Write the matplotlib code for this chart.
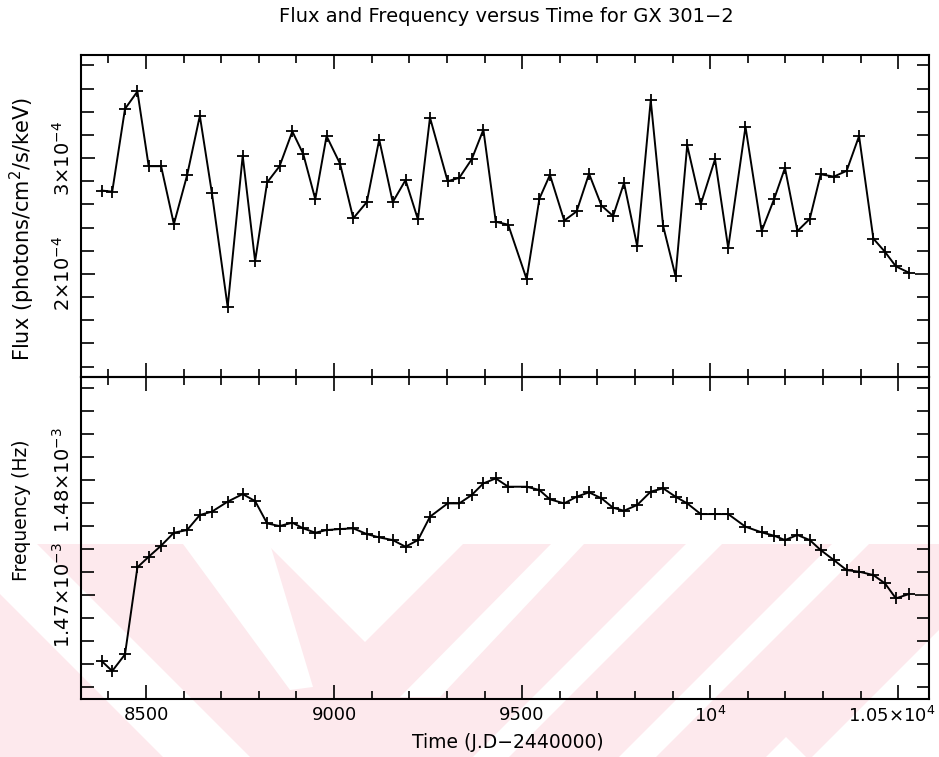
import numpy as np
import matplotlib
matplotlib.use("Agg")
import matplotlib.pyplot as plt
import matplotlib.transforms as mtransforms
from matplotlib.patches import Polygon
from matplotlib.ticker import FixedLocator, MultipleLocator

plt.rcParams['font.family'] = 'DejaVu Sans'
plt.rcParams['mathtext.fontset'] = 'dejavusans'

# observation times (J.D - 2440000)
time = [8382, 8410, 8444, 8477, 8507, 8540, 8574, 8609, 8643, 8675, 8717, 8757,
        8790, 8822, 8855, 8889, 8918, 8950, 8980, 9016, 9051, 9087, 9120, 9156,
        9190, 9223, 9255, 9302, 9333, 9366, 9397, 9430, 9463, 9512, 9546, 9574,
        9612, 9645, 9678, 9711, 9742, 9771, 9806, 9842, 9875, 9908, 9939, 9975,
        10013, 10048, 10094, 10137, 10170, 10199, 10232, 10265, 10294, 10329,
        10363, 10396, 10434, 10465, 10494, 10529]

# flux in units of 1e-4 photons/cm^2/s/keV
flux_e4 = [2.72, 2.71, 3.425, 3.575, 2.93, 2.93, 2.43, 2.85, 3.365, 2.70, 1.715, 3.02,
           2.11, 2.79, 2.93, 3.23, 3.035, 2.645, 3.19, 2.95, 2.48, 2.62, 3.16, 2.62,
           2.81, 2.47, 3.35, 2.80, 2.83, 2.99, 3.245, 2.45, 2.425, 1.955, 2.65, 2.855,
           2.46, 2.54, 2.865, 2.59, 2.50, 2.785, 2.24, 3.50, 2.415, 1.98, 3.11, 2.60,
           2.99, 2.225, 3.27, 2.37, 2.645, 2.915, 2.37, 2.475, 2.86, 2.84, 2.89, 3.19,
           2.305, 2.19, 2.065, 2.01]

# pulse frequency in units of 1e-3 Hz
freq_e3 = [1.46426, 1.46339, 1.46484, 1.47241, 1.47333, 1.47429, 1.47542, 1.47565,
           1.47696, 1.47725, 1.47812, 1.47878, 1.47817, 1.47623, 1.47600, 1.47629,
           1.47580, 1.47542, 1.47565, 1.47574, 1.47580, 1.47530, 1.47501, 1.47478,
           1.47420, 1.47478, 1.47681, 1.47797, 1.47797, 1.47870, 1.47971, 1.48014,
           1.47942, 1.47942, 1.47913, 1.47832, 1.47797, 1.47855, 1.47893, 1.47841,
           1.47759, 1.47733, 1.47783, 1.47899, 1.47928, 1.47855, 1.47797, 1.47704,
           1.47704, 1.47704, 1.47594, 1.47545, 1.47516, 1.47478, 1.47522, 1.47478,
           1.47391, 1.47304, 1.47217, 1.47203, 1.47174, 1.47101, 1.46971, 1.47009]

flux = np.array(flux_e4) * 1e-4
freq = np.array(freq_e3) * 1e-3

xticks = [8500, 9000, 9500, 10000, 10500]
xticklabels = ['8500', '9000', '9500', r'10$^4$', '1.05\u00d710$^4$']
flux_ticks = [2e-4, 3e-4]
flux_labels = ['2\u00d710$^{-4}$', '3\u00d710$^{-4}$']
freq_ticks = [1.47e-3, 1.48e-3]
freq_labels = ['1.47\u00d710$^{-3}$', '1.48\u00d710$^{-3}$']

W, H = 939, 757
fig = plt.figure(figsize=(W / 100, H / 100), dpi=100, facecolor='white')


def px(pts):
    return [(x / W, 1 - y / H) for x, y in pts]


# faint pink stamp behind the lower panel
pink = '#fde9ed'
top, bot = 544, 757
d = bot - top
fig.add_artist(Polygon(px([(0, top), (W, top), (W, bot), (0, bot)]),
                       transform=fig.transFigure, fc=pink, ec='none', zorder=-3))
white_polys = [
    [(-50, top), (37, top), (37 + d, bot), (-50 + d, bot)],
    [(183, top), (270, top), (313, 687), (290, 690)],
    [(267, top), (463, top), (365, top + 98)],
    [(551, top), (584, top), (440, 697), (400, 697)],
    [(686, top), (722, top), (722 - d, bot), (686 - d, bot)],
    [(832, top), (869, top), (869 - d, bot), (832 - d, bot)],
    [(1025, top), (1300, top), (1300 - d, bot), (1025 - d, bot)],
    [(766, bot), (786, bot - 20), (806, bot)],
]
for poly in white_polys:
    fig.add_artist(Polygon(px(poly), transform=fig.transFigure,
                           fc='white', ec='none', zorder=-2))

left, right = 81 / W, 929 / W
y_top, y_mid, y_bot = 1 - 55 / H, 1 - 377 / H, 1 - 699 / H
ax1 = fig.add_axes([left, y_mid, right - left, y_top - y_mid])
ax2 = fig.add_axes([left, y_bot, right - left, y_mid - y_bot], sharex=ax1)

for ax in (ax1, ax2):
    ax.patch.set_visible(False)
    ax.tick_params(which='both', direction='in', top=True, right=True,
                   labelsize=14, width=1.2)
    ax.tick_params(which='major', length=10)
    ax.tick_params(which='minor', length=6)
    for s in ax.spines.values():
        s.set_linewidth(1.5)

ax1.plot(time, flux, color='black', lw=1.4, marker='+', ms=9, mew=1.3)
ax2.plot(time, freq, color='black', lw=1.4, marker='+', ms=9, mew=1.3)

ax1.set_xlim(8327, 10582)
ax1.xaxis.set_major_locator(FixedLocator(xticks))
ax1.xaxis.set_minor_locator(MultipleLocator(100))
ax1.tick_params(axis='x', labelbottom=False)
ax2.set_xticks(xticks, xticklabels)
ax2.tick_params(axis='x', pad=5, labelsize=13)
# nudge the last label so it stays inside the page
last = ax2.get_xticklabels()[-1]
last.set_transform(last.get_transform() +
                   mtransforms.ScaledTranslation(-6 / 100, 0, fig.dpi_scale_trans))

ax1.set_ylim(1.11e-4, 3.89e-4)
ax1.set_yticks(flux_ticks, flux_labels)
ax1.yaxis.set_minor_locator(MultipleLocator(0.2e-4))

ax2.set_ylim(1.46096e-3, 1.48896e-3)
ax2.set_yticks(freq_ticks, freq_labels)
ax2.yaxis.set_minor_locator(MultipleLocator(2e-6))

for ax in (ax1, ax2):
    ax.tick_params(axis='y', which='minor', length=9)
    ax.tick_params(axis='y', which='major', length=10, pad=5)
    for lab in ax.get_yticklabels():
        lab.set_rotation(90)
        lab.set_va('center')
        lab.set_ha('right')

fig.text(506 / W, 1 - 16 / H, 'Flux and Frequency versus Time for GX 301\u22122',
         ha='center', va='center', fontsize=14)
fig.text(22 / W, 1 - 229 / H, r'Flux (photons/cm$^2$/s/keV)', rotation=90,
         ha='center', va='center', fontsize=15)
fig.text(22 / W, 1 - 510 / H, 'Frequency (Hz)', rotation=90,
         ha='center', va='center', fontsize=13.5)
fig.text(508 / W, 1 - 742 / H, 'Time (J.D\u22122440000)',
         ha='center', va='center', fontsize=13.5)

fig.savefig('out.png', dpi=100, facecolor='white')
